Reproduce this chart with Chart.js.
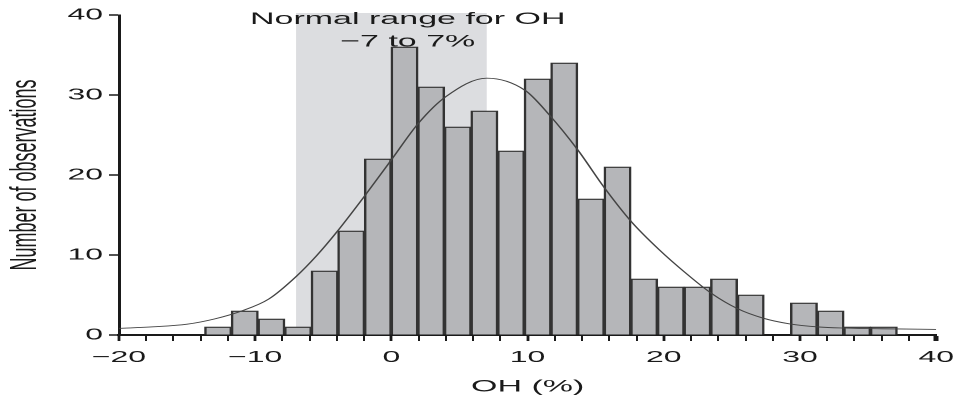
<!DOCTYPE html>
<html>
<head>
<meta charset="utf-8">
<script src="https://cdn.jsdelivr.net/npm/chart.js@4.4.1/dist/chart.umd.min.js"></script>
<style>
  html, body { margin: 0; padding: 0; background: #fff; overflow: hidden; }
  /* the original figure is stretched sideways, so the whole canvas is too */
  #chart { position: absolute; left: 0; top: 0; transform: scaleX(2); transform-origin: 0 0; }
</style>
</head>
<body>
<canvas id="chart" width="484" height="402"></canvas>
<script>
// Histogram bins (OH %)
const binStart = -13.7;
const binWidth = 1.955;
const counts = [1, 3, 2, 1, 8, 13, 22, 36, 31, 26, 28, 23, 32, 34, 17, 21, 7, 6, 6, 7, 5, 0, 4, 3, 1, 1];

// Fitted curve, sampled off the figure
const curveX = [-20, -17.5, -15, -13, -11, -9, -7, -5.5, -4, -2, 0, 2, 4, 7, 9.8, 11.6, 13.7, 15.6, 17.6, 19.7, 21.5, 23.5, 25.4, 27.3, 29.2, 31.4, 33.3, 36, 40];
const curveY = [0.83, 1.02, 1.35, 2.0, 3.0, 4.5, 7.3, 9.9, 12.9, 17.3, 21.9, 26.5, 29.8, 32.1, 30.6, 27.5, 23.1, 18.5, 14.2, 10.6, 7.9, 5.2, 3.3, 2.1, 1.4, 1.0, 0.87, 0.78, 0.7];

const normalRange = [-7, 7];
const rangeLabel = ['Normal range for OH', '\u22127 to 7%'];

const xMin = -20, xMax = 40, xStep = 2, xLabelStep = 10;
const yMin = 0, yMax = 40, yStep = 10;

const barData = counts.map((c, i) => ({ x: binStart + binWidth * (i + 0.5), y: c }));
const curveData = curveX.map((x, i) => ({ x: x, y: curveY[i] }));

const ink = '#1a1a1a';
const fontFamily = "'Liberation Sans', Arial, sans-serif";

// Grey band for the normal range, under the bars
const rangeBand = {
    id: 'rangeBand',
    beforeDatasetsDraw(chart) {
        const ctx = chart.ctx;
        const x = chart.scales.x;
        const area = chart.chartArea;
        const x0 = x.getPixelForValue(normalRange[0]);
        const x1 = x.getPixelForValue(normalRange[1]);
        ctx.save();
        ctx.fillStyle = '#dcdde0';
        ctx.fillRect(x0, area.top - 2, x1 - x0, area.bottom - area.top + 1);
        ctx.restore();
    }
};

// Two-line label above the band
const rangeText = {
    id: 'rangeText',
    afterDatasetsDraw(chart) {
        const ctx = chart.ctx;
        const cx = chart.scales.x.getPixelForValue(1.2);
        ctx.save();
        ctx.fillStyle = ink;
        ctx.font = '17px ' + fontFamily;
        ctx.textAlign = 'center';
        ctx.textBaseline = 'alphabetic';
        ctx.fillText(rangeLabel[0], cx, 24);
        ctx.fillText(rangeLabel[1], cx, 46.5);
        ctx.restore();
    }
};

new Chart(document.getElementById('chart'), {
    type: 'bar',
    data: {
        datasets: [{
            type: 'line',
            data: curveData,
            borderColor: '#444',
            borderWidth: 0.9,
            pointRadius: 0,
            fill: false,
            cubicInterpolationMode: 'monotone',
            order: 0
        }, {
            type: 'bar',
            data: barData,
            backgroundColor: '#b5b6b9',
            borderColor: '#333',
            borderWidth: 1.25,
            borderSkipped: 'start',
            barPercentage: 1,
            categoryPercentage: 1,
            order: 1
        }]
    },
    options: {
        responsive: false,
        devicePixelRatio: 2,
        animation: false,
        layout: { padding: { top: 15, right: 13.5, bottom: 0, left: 0 } },
        plugins: {
            legend: { display: false },
            tooltip: { enabled: false }
        },
        scales: {
            x: {
                type: 'linear',
                min: xMin,
                max: xMax,
                offset: false,
                afterFit: function(scale) { scale.height = 67; },
                border: { display: true, color: ink, width: 2 },
                grid: {
                    offset: false,
                    drawOnChartArea: false,
                    drawTicks: true,
                    tickLength: 6,
                    tickColor: ink,
                    tickWidth: function(c) {
                        if (c.tick && c.tick.value === xMax) return 2.5;
                        return c.tick && c.tick.value % xLabelStep === 0 ? 1.4 : 1;
                    }
                },
                ticks: {
                    stepSize: xStep,
                    autoSkip: false,
                    maxRotation: 0,
                    padding: 7,
                    color: ink,
                    font: { family: fontFamily, size: 16 },
                    callback: function(v) {
                        if (v % xLabelStep !== 0) return '';
                        return v < 0 ? '\u2212' + Math.abs(v) : String(v);
                    }
                },
                title: {
                    display: true,
                    text: 'OH (%)',
                    color: ink,
                    font: { family: fontFamily, size: 17 },
                    padding: { top: 0, bottom: 5 }
                }
            },
            y: {
                min: yMin,
                max: yMax,
                afterFit: function(scale) { scale.width = 59.5; },
                border: { display: true, color: ink, width: 1.5 },
                grid: {
                    drawOnChartArea: false,
                    drawTicks: true,
                    tickLength: 5,
                    tickColor: ink,
                    tickWidth: 1.5
                },
                ticks: {
                    stepSize: yStep,
                    padding: 3,
                    color: ink,
                    font: { family: fontFamily, size: 16 }
                },
                title: {
                    display: true,
                    text: 'Number of observations',
                    color: ink,
                    font: { family: fontFamily, size: 18 },
                    padding: { top: 2, bottom: 0 }
                }
            }
        }
    },
    plugins: [rangeBand, rangeText]
});
</script>
</body>
</html>
